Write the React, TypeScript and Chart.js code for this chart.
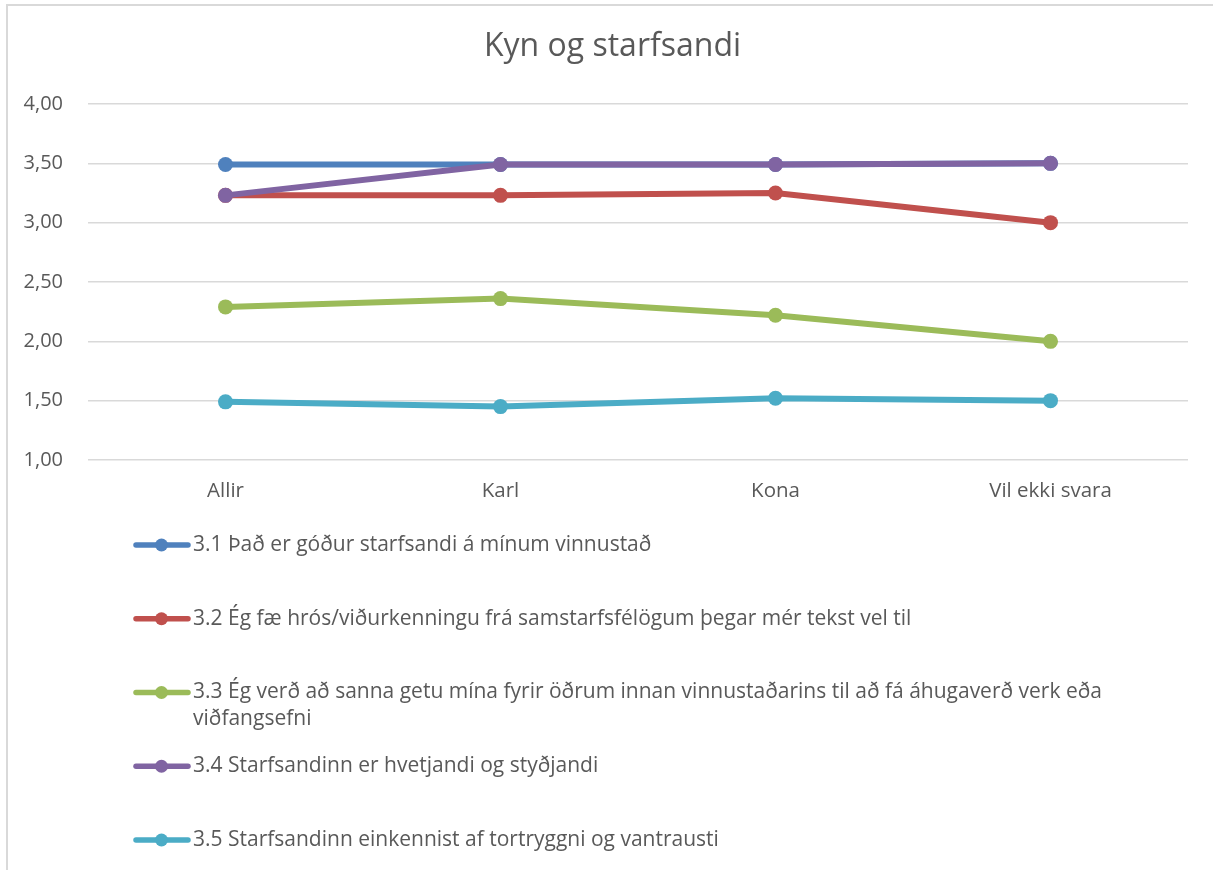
import React, { useEffect, useRef } from "react";
import { Chart, registerables } from "chart.js";

Chart.register(...registerables);

const chartTitle = "Kyn og starfsandi";

const categories = ["Allir", "Karl", "Kona", "Vil ekki svara"];

const seriesNames: string[][] = [
  ["3.1 Það er góður starfsandi á mínum vinnustað"],
  ["3.2 Ég fæ hrós/viðurkenningu frá samstarfsfélögum þegar mér tekst vel til"],
  [
    "3.3 Ég verð að sanna getu mína fyrir öðrum innan vinnustaðarins til að fá áhugaverð verk eða",
    "viðfangsefni",
  ],
  ["3.4 Starfsandinn er hvetjandi og styðjandi"],
  ["3.5 Starfsandinn einkennist af tortryggni og vantrausti"],
];

const series31 = [3.49, 3.49, 3.49, 3.5];
const series32 = [3.23, 3.23, 3.25, 3.0];
const series33 = [2.29, 2.36, 2.22, 2.0];
const series34 = [3.23, 3.49, 3.49, 3.5];
const series35 = [1.49, 1.45, 1.52, 1.5];

const seriesColors = ["#4f81bd", "#c0504d", "#9bbb59", "#8064a2", "#4bacc6"];

const yTicks = [1, 1.5, 2, 2.5, 3, 3.5, 4];

const FONT = "'Open Sans', sans-serif";
const TEXT = "#595959";

const titleLegendPlugin = {
  id: "excelTitleLegend",
  afterDraw(chart: any) {
    const ctx = chart.ctx;
    const area = chart.chartArea;
    ctx.save();
    // title, centred on the whole chart frame
    ctx.fillStyle = TEXT;
    ctx.font = `32px ${FONT}`;
    ctx.textAlign = "center";
    ctx.textBaseline = "middle";
    ctx.fillText(chartTitle, chart.width / 2 + 6, area.top - 57);

    // legend
    const startY = area.bottom + 85;
    const step = 73.75;
    const lineH = 27;
    chart.data.datasets.forEach((ds: any, i: number) => {
      const y = startY + i * step;
      ctx.strokeStyle = ds.borderColor;
      ctx.lineWidth = 5.5;
      ctx.lineCap = "round";
      ctx.beginPath();
      ctx.moveTo(136, y);
      ctx.lineTo(188, y);
      ctx.stroke();
      ctx.fillStyle = ds.borderColor;
      ctx.beginPath();
      ctx.arc(161.5, y, 6.5, 0, Math.PI * 2);
      ctx.fill();
      ctx.fillStyle = TEXT;
      ctx.font = `21px ${FONT}`;
      ctx.textAlign = "left";
      ctx.textBaseline = "middle";
      const lines: string[] = ds.legendLines;
      lines.forEach((t, j) => ctx.fillText(t, 193, y + j * lineH));
    });
    ctx.restore();
  },
};

export default function App() {
  const canvasRef = useRef<HTMLCanvasElement>(null);

  useEffect(() => {
    const values = [series31, series32, series33, series34, series35];
    const chart = new Chart(canvasRef.current!, {
      type: "line",
      data: {
        labels: categories,
        datasets: values.map((v, i) => ({
          label: seriesNames[i].join(" "),
          legendLines: seriesNames[i],
          data: v,
          borderColor: seriesColors[i],
          backgroundColor: seriesColors[i],
          borderWidth: 6,
          pointRadius: 7.5,
          pointHoverRadius: 7.5,
          pointBorderWidth: 0,
          pointBackgroundColor: seriesColors[i],
          tension: 0,
          order: 4 - i,
        })) as any,
      },
      options: {
        responsive: false,
        animation: false,
        devicePixelRatio: 1,
        layout: { padding: { left: 0, right: 25, top: 104, bottom: 365 } },
        plugins: {
          legend: { display: false },
          tooltip: { enabled: false },
          title: { display: false },
        },
        scales: {
          x: {
            offset: true,
            grid: { display: false, drawTicks: false },
            border: { display: false },
            ticks: {
              color: TEXT,
              font: { family: FONT, size: 20.5 },
              padding: 19,
              maxRotation: 0,
            },
            afterFit: (s: any) => {
              s.height = 45;
            },
          },
          y: {
            min: 1,
            max: 4,
            afterBuildTicks: (s: any) => {
              s.ticks = yTicks.map((v) => ({ value: v }));
            },
            grid: { color: "#d9d9d9", lineWidth: 1.5, drawTicks: false },
            border: { display: false },
            ticks: {
              color: TEXT,
              font: { family: FONT, size: 20 },
              padding: 25,
              callback: (v: any) => Number(v).toFixed(2).replace(".", ","),
            },
            afterFit: (s: any) => {
              s.width = 88;
            },
          },
        },
      },
      plugins: [titleLegendPlugin],
    });
    return () => chart.destroy();
  }, []);

  return (
    <div
      style={{
        position: "fixed",
        left: 0,
        top: 0,
        width: 1213,
        height: 870,
        background: "#fff",
        overflow: "hidden",
      }}
    >
      <canvas
        ref={canvasRef}
        width={1213}
        height={870}
        style={{ position: "absolute", left: 0, top: 0 }}
      />
      <div
        style={{
          position: "absolute",
          left: 6,
          top: 4,
          right: 0,
          bottom: -10,
          borderLeft: "2px solid #d9d9d9",
          borderTop: "2px solid #d9d9d9",
          pointerEvents: "none",
        }}
      />
    </div>
  );
}
